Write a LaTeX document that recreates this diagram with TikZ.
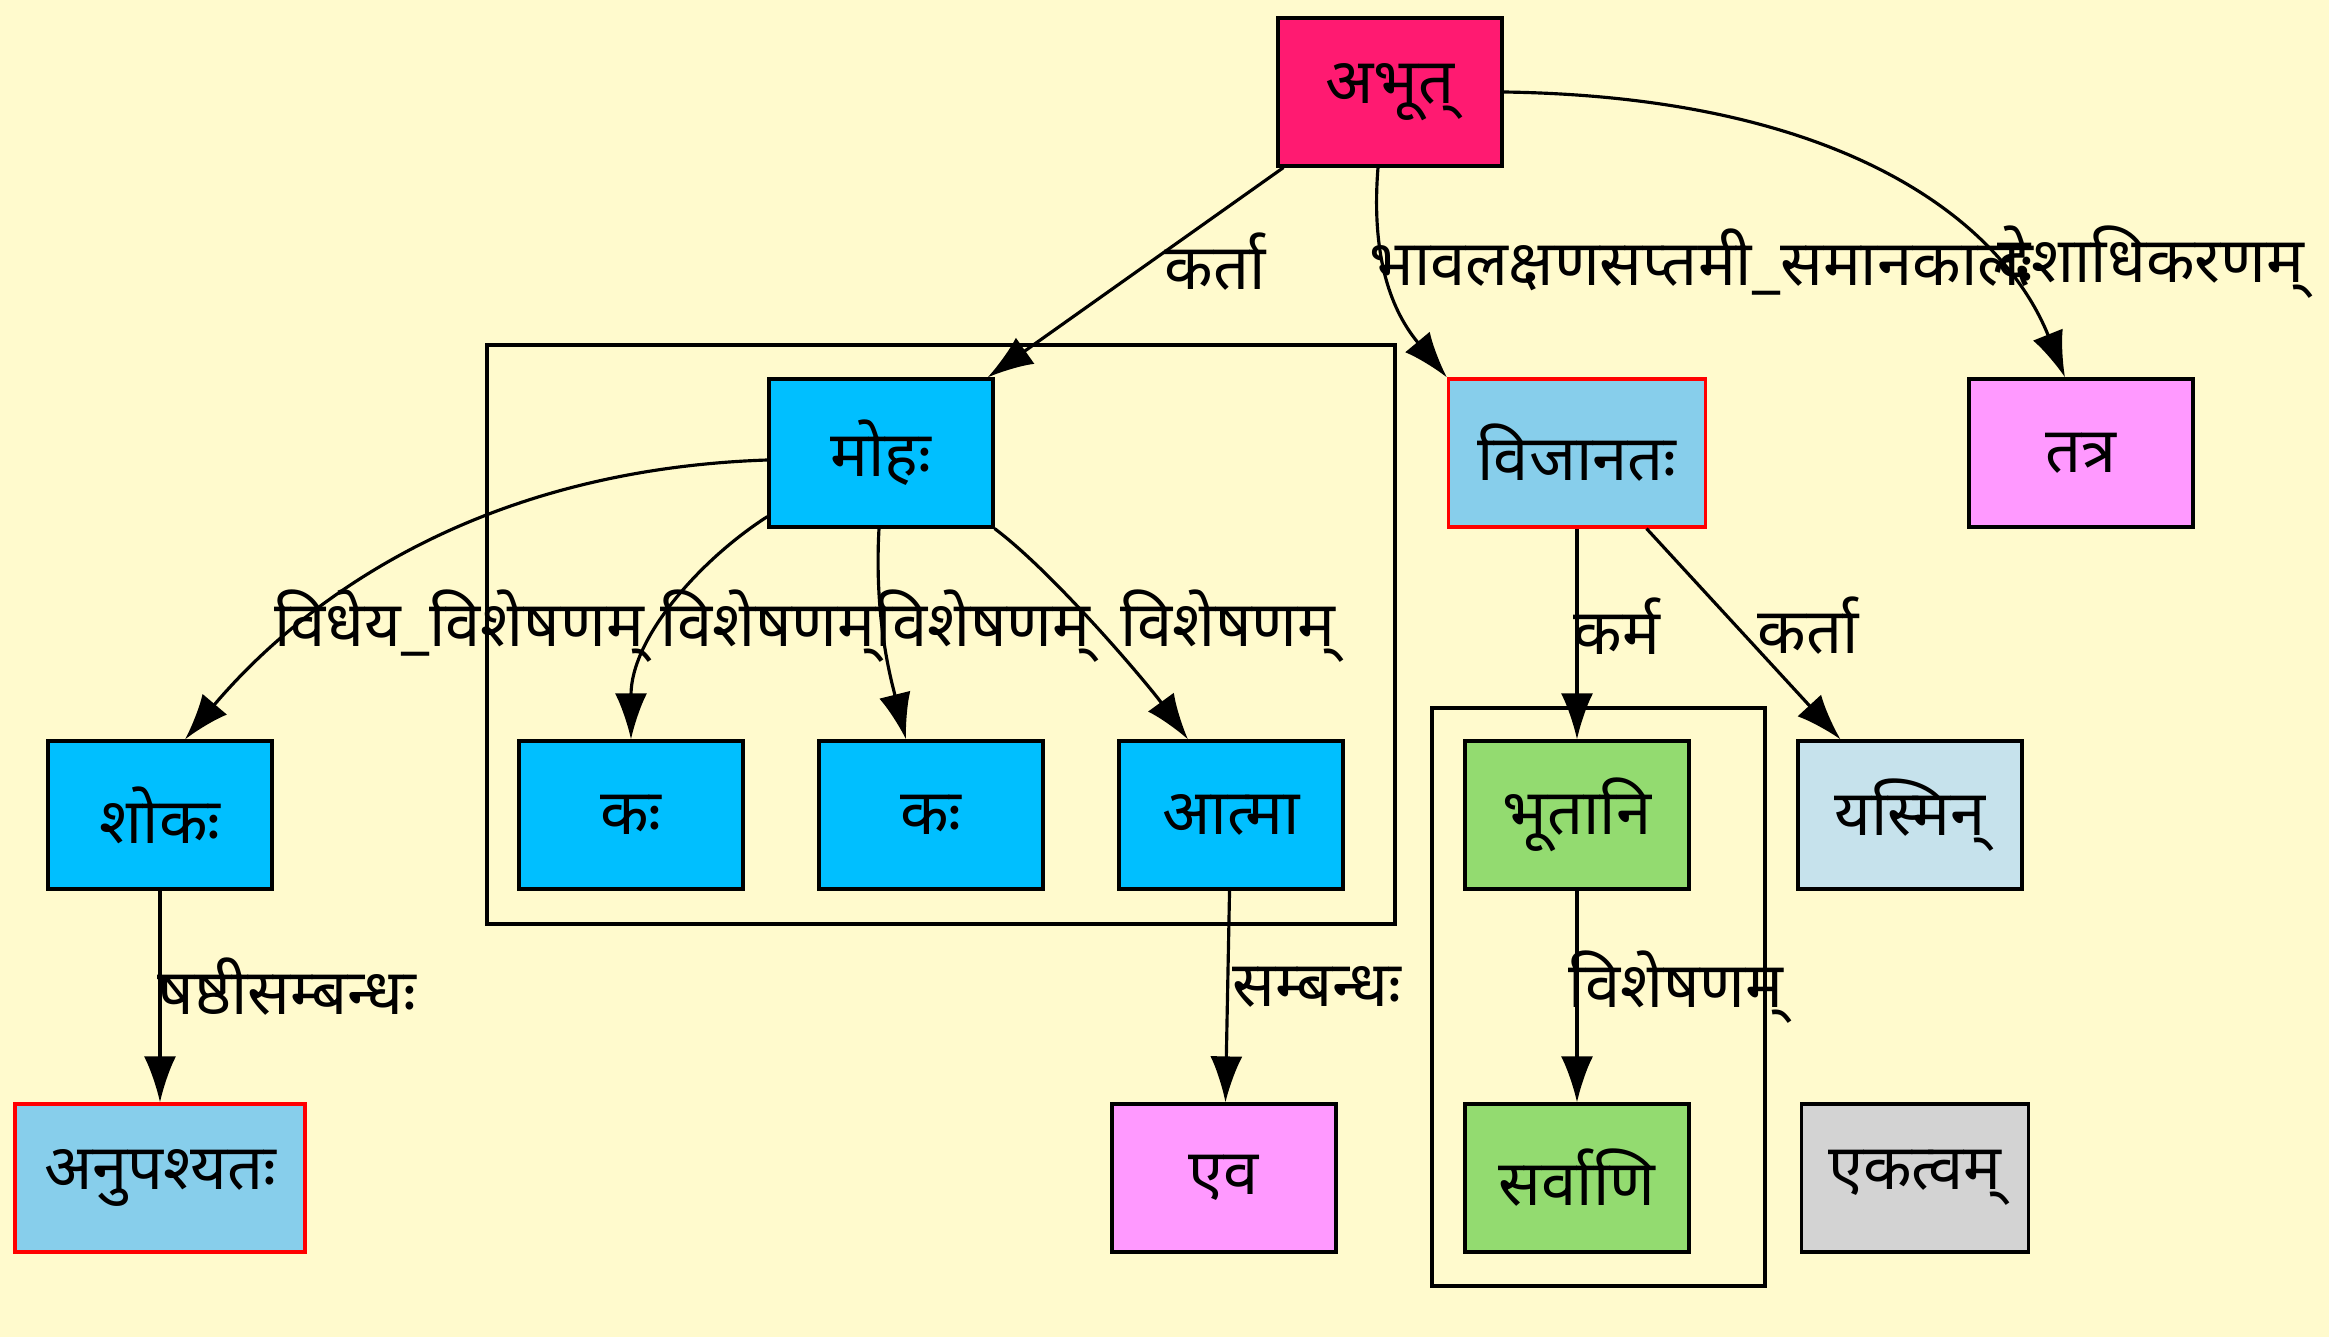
\documentclass[tikz,border=0pt]{standalone}
\usepackage{fontspec}
\newfontfamily\deva[Script=Devanagari]{Noto Sans}
\usetikzlibrary{arrows.meta}
\definecolor{bgyellow}{RGB}{255,250,205}
\definecolor{rootpink}{RGB}{255,26,113}
\definecolor{deepsky}{RGB}{0,191,255}
\definecolor{sky}{RGB}{135,206,235}
\definecolor{violetpink}{RGB}{255,153,255}
\definecolor{leafgreen}{RGB}{147,219,112}
\definecolor{paleblue}{RGB}{198,226,236}
\definecolor{greybox}{RGB}{211,211,211}

\begin{document}
\begin{tikzpicture}[
    word/.style={draw=black, line width=0.9pt, minimum width=2.24cm, minimum height=1.48cm, inner sep=0pt, font=\deva\fontsize{18}{20}\selectfont},
    rel/.style={inner sep=0pt, font=\deva\fontsize{18}{20}\selectfont},
    edge/.style={-{Latex[length=4.6mm,width=3.2mm]}, line width=0.9pt}
]
    \fill[bgyellow] (0,0) rectangle (23.29,-13.37);
    \useasboundingbox (0,0) rectangle (23.29,-13.37);
    % clusters
    \draw[line width=0.9pt] (4.87,-3.45) rectangle (13.95,-9.24);
    \draw[line width=0.9pt] (14.32,-7.08) rectangle (17.65,-12.86);
    % words
    \node[word, fill=rootpink] (abhut) at (13.90,-0.92) {अभूत्};
    \node[word, fill=deepsky] (moha) at (8.81,-4.53) {मोहः};
    \node[word, fill=sky, draw=red, minimum width=2.57cm] (vijanata) at (15.77,-4.53) {विजानतः};
    \node[word, fill=violetpink] (tatra) at (20.81,-4.53) {तत्र};
    \node[word, fill=deepsky] (shoka) at (1.60,-8.15) {शोकः};
    \node[word, fill=deepsky] (kaA) at (6.31,-8.15) {कः};
    \node[word, fill=deepsky] (kaB) at (9.31,-8.15) {कः};
    \node[word, fill=deepsky] (atma) at (12.31,-8.15) {आत्मा};
    \node[word, fill=leafgreen] (bhutani) at (15.77,-8.15) {भूतानि};
    \node[word, fill=paleblue] (yasmin) at (19.10,-8.15) {यस्मिन्};
    \node[word, fill=sky, draw=red, minimum width=2.90cm] (anupashyata) at (1.60,-11.78) {अनुपश्यतः};
    \node[word, fill=violetpink] (eva) at (12.24,-11.78) {एव};
    \node[word, fill=leafgreen] (sarvani) at (15.77,-11.78) {सर्वाणि};
    \node[word, fill=greybox, minimum width=2.27cm] (ekatvam) at (19.15,-11.78) {एकत्वम्};
    % relations
    \draw[edge] (abhut) -- (moha);
    \draw[edge] ([xshift=-0.12cm]abhut.south) .. controls +(-0.08,-1.0) and +(-0.5,0.6) .. (vijanata.north west);
    \draw[edge] (abhut.east) .. controls +(3.5,-0.05) and +(-0.6,1.5) .. ([xshift=-0.16cm]tatra.north);
    \draw[edge] ([yshift=-0.07cm]moha.west) .. controls +(-3.0,-0.1) and +(1.1,1.3) .. ([xshift=0.25cm]shoka.north);
    \draw[edge] ([yshift=0.12cm]moha.south west) .. controls +(-0.7,-0.45) and +(0,1.0) .. (kaA.north);
    \draw[edge] ([xshift=-0.02cm]moha.south) .. controls +(-0.05,-0.9) and +(-0.15,0.6) .. ([xshift=-0.25cm]kaB.north);
    \draw[edge] (moha.south east) .. controls +(0.6,-0.45) and +(-0.4,0.55) .. ([xshift=-0.43cm]atma.north);
    \draw[edge] (vijanata) -- (bhutani);
    \draw[edge] (vijanata) -- (yasmin);
    \draw[edge] (shoka) -- (anupashyata);
    \draw[edge] (atma) -- (eva);
    \draw[edge] (bhutani) -- (sarvani);
    % labels
    \node[rel] (lkarta) at (12.15,-2.62) {कर्ता};
    \node[rel, anchor=west] (lbhava) at (13.69,-2.62) {भावलक्षणसप्तमी\_समानकालः};
    \node[rel, anchor=west] (ldesha) at (19.97,-2.62) {देशाधिकरणम्};
    \node[rel] (lvidheya) at (4.59,-6.26) {विधेय\_विशेषणम्};
    \node[rel] (lvisheshA) at (7.68,-6.26) {विशेषणम्};
    \node[rel] (lvisheshB) at (9.83,-6.26) {विशेषणम्};
    \node[rel] (lvisheshC) at (12.28,-6.26) {विशेषणम्};
    \node[rel] (lkarma) at (16.17,-6.26) {कर्म};
    \node[rel] (lkartaB) at (18.08,-6.26) {कर्ता};
    \node[rel] (lshashthi) at (2.87,-9.87) {षष्ठीसम्बन्धः};
    \node[rel] (lsambandha) at (13.17,-9.87) {सम्बन्धः};
    \node[rel] (lvisheshD) at (16.76,-9.87) {विशेषणम्};
\end{tikzpicture}
\end{document}
